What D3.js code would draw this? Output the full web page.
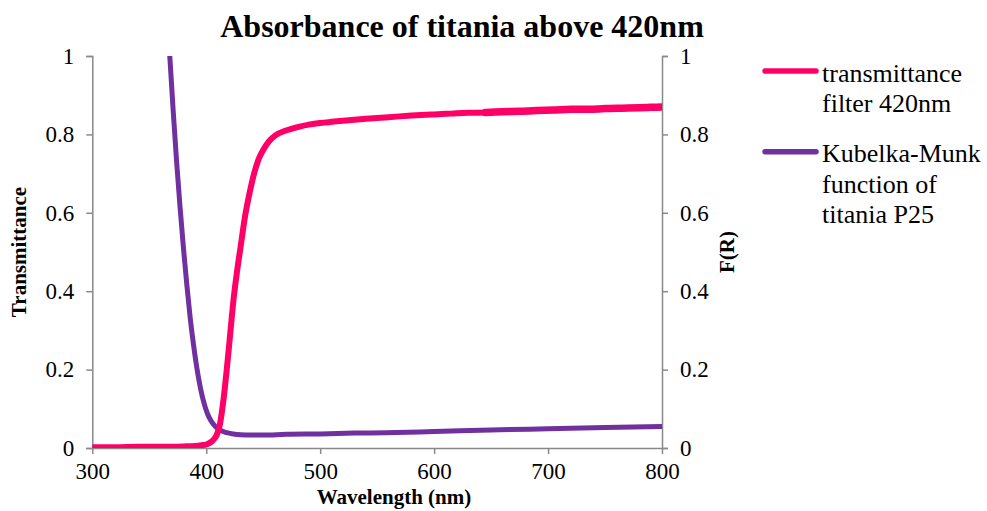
<!DOCTYPE html>
<html>
<head>
<meta charset="utf-8">
<script src="https://cdn.jsdelivr.net/npm/d3@7"></script>
<style>
  html, body { margin: 0; padding: 0; background: #fff; }
  svg { display: block; font-family: "Liberation Serif", "Times New Roman", serif; }
</style>
</head>
<body>
<svg id="chart" width="987" height="511"></svg>
<script>
// Transmittance of the 420 nm cut-off filter: [wavelength nm, transmittance]
const transmittance = [
  [300, 0.002], [320, 0.002], [340, 0.003], [360, 0.003], [380, 0.004], [390, 0.005],
  [396, 0.007], [400, 0.009], [403, 0.013], [406, 0.02], [409, 0.032], [412, 0.06],
  [415, 0.12], [418, 0.2], [421, 0.29], [424, 0.38], [427, 0.45], [430, 0.51],
  [434, 0.59], [438, 0.65], [442, 0.70], [446, 0.737], [450, 0.76], [455, 0.782],
  [461, 0.798], [470, 0.81], [482, 0.82], [490, 0.825], [500, 0.829], [520, 0.835],
  [540, 0.84], [560, 0.844], [580, 0.848], [600, 0.851], [615, 0.853], [630, 0.855],
  [645, 0.856], [660, 0.858], [675, 0.859], [690, 0.861], [705, 0.862], [720, 0.864],
  [735, 0.864], [750, 0.866], [765, 0.867], [780, 0.868], [790, 0.869], [800, 0.870]
];

// Kubelka-Munk function F(R) of titania P25: [wavelength nm, F(R)]
const kubelkaMunk = [
  [366, 1.09], [368, 1.0], [371, 0.86], [374, 0.73], [377, 0.615], [380, 0.51],
  [383, 0.415], [386, 0.33], [389, 0.26], [392, 0.2], [395, 0.152], [398, 0.115],
  [401, 0.088], [404, 0.07], [408, 0.055], [412, 0.046], [418, 0.039], [425, 0.035],
  [435, 0.033], [450, 0.033], [470, 0.035], [500, 0.036], [530, 0.038], [557, 0.039],
  [600, 0.042], [650, 0.046], [700, 0.049], [750, 0.052], [800, 0.055]
];

const xTicks = [300, 400, 500, 600, 700, 800];
const yTicks = [0, 0.2, 0.4, 0.6, 0.8, 1];

const titleText = "Absorbance of titania above 420nm";
const xTitle = "Wavelength (nm)";
const yLeftTitle = "Transmittance";
const yRightTitle = "F(R)";
const legendItems = [
  { lines: ["transmittance", "filter 420nm"], color: "#FF0066" },
  { lines: ["Kubelka-Munk", "function of", "titania P25"], color: "#7030A0" }
];

const svg = d3.select("#chart");
const plot = { left: 92.3, right: 662, top: 56, bottom: 448 };
const axisColor = "#898989";
const serif = "'Liberation Serif', 'Times New Roman', serif";

const x = d3.scaleLinear().domain([300, 800]).range([plot.left, plot.right]);
const yL = d3.scaleLinear().domain([0, 1]).range([plot.bottom, plot.top]);
const yR = d3.scaleLinear().domain([0, 1]).range([plot.bottom, plot.top]);

svg.append("defs").append("clipPath").attr("id", "plotClip")
  .append("rect")
  .attr("x", plot.left).attr("y", plot.top)
  .attr("width", plot.right - plot.left).attr("height", plot.bottom - plot.top);

// Axes
function styleAxis(g) {
  g.attr("font-family", null);
  g.select(".domain").attr("stroke", axisColor).attr("stroke-width", 1.5);
  g.selectAll(".tick line").attr("stroke", axisColor).attr("stroke-width", 1.5);
  g.selectAll(".tick text").attr("fill", "#000")
    .style("font-family", serif).style("font-size", "23px");
}

const xAxis = svg.append("g").attr("transform", `translate(0,${plot.bottom})`)
  .call(d3.axisBottom(x).tickValues(xTicks).tickFormat(d3.format("d"))
    .tickSizeInner(6).tickSizeOuter(0).tickPadding(9));
styleAxis(xAxis);

const fmt = d => (d === 0 || d === 1) ? String(d) : d.toFixed(1);
const yAxisL = svg.append("g").attr("transform", `translate(${plot.left},0)`)
  .call(d3.axisLeft(yL).tickValues(yTicks).tickFormat(fmt)
    .tickSizeInner(6).tickSizeOuter(6).tickPadding(12));
styleAxis(yAxisL);

const yAxisR = svg.append("g").attr("transform", `translate(${plot.right},0)`)
  .call(d3.axisRight(yR).tickValues(yTicks).tickFormat(fmt)
    .tickSizeInner(6).tickSizeOuter(6).tickPadding(12));
styleAxis(yAxisR);

// Series
const lineL = d3.line().x(d => x(d[0])).y(d => yL(d[1])).curve(d3.curveMonotoneX);
const lineR = d3.line().x(d => x(d[0])).y(d => yR(d[1])).curve(d3.curveMonotoneX);

const series = svg.append("g").attr("clip-path", "url(#plotClip)");
series.append("path").datum(kubelkaMunk)
  .attr("d", lineR).attr("fill", "none")
  .attr("stroke", legendItems[1].color).attr("stroke-width", 5)
  .attr("stroke-linejoin", "round");
series.append("path").datum(transmittance)
  .attr("d", lineL).attr("fill", "none")
  .attr("stroke", legendItems[0].color).attr("stroke-width", 6)
  .attr("stroke-linejoin", "round").attr("stroke-linecap", "round");
// the measured trace gets noisier towards the long-wavelength end
series.append("path").datum(transmittance.filter(d => d[0] >= 640))
  .attr("d", lineL).attr("fill", "none")
  .attr("stroke", legendItems[0].color).attr("stroke-width", 7.5)
  .attr("stroke-linejoin", "round").attr("stroke-linecap", "round");

// Titles
svg.append("text").attr("x", 462).attr("y", 37).attr("text-anchor", "middle")
  .style("font-size", "32px").style("font-weight", "bold").text(titleText);

svg.append("text").attr("x", 394).attr("y", 504).attr("text-anchor", "middle")
  .style("font-size", "21px").style("font-weight", "bold").text(xTitle);

svg.append("text").attr("transform", "translate(26,252) rotate(-90)")
  .attr("text-anchor", "middle")
  .style("font-size", "21px").style("font-weight", "bold").text(yLeftTitle);

svg.append("text").attr("transform", "translate(734,252) rotate(-90)")
  .attr("text-anchor", "middle")
  .style("font-size", "21px").style("font-weight", "bold").text(yRightTitle);

// Legend
const legend = svg.append("g");
const legendRows = [71, 151.7];
legendItems.forEach((item, i) => {
  const ly = legendRows[i];
  legend.append("line")
    .attr("x1", 765).attr("x2", 816).attr("y1", ly).attr("y2", ly)
    .attr("stroke", item.color).attr("stroke-width", 5.5).attr("stroke-linecap", "round");
  const t = legend.append("text").attr("x", 822).attr("y", ly + 10.5)
    .style("font-size", "26px");
  item.lines.forEach((s, j) => {
    t.append("tspan").attr("x", 822).attr("dy", j === 0 ? 0 : 30.5).text(s);
  });
});
</script>
</body>
</html>
